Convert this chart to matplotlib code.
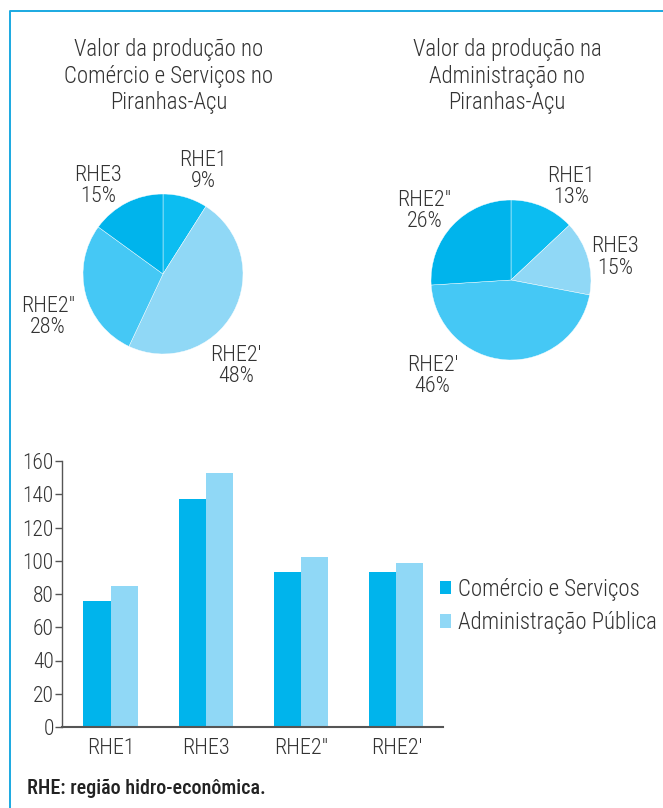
import matplotlib
matplotlib.use('Agg')
import matplotlib.pyplot as plt
from matplotlib.lines import Line2D

plt.rcParams['font.family'] = ['Roboto Condensed', 'Roboto', 'DejaVu Sans']
plt.rcParams['font.weight'] = 'light'
plt.rcParams['text.color'] = '#333333'

# Data
pie1_labels = ['RHE1', "RHE2'", 'RHE2"', 'RHE3']
pie1_values = [9, 48, 28, 15]
pie2_labels = ['RHE1', 'RHE3', "RHE2'", 'RHE2"']
pie2_values = [13, 15, 46, 26]

bar_categories = ['RHE1', 'RHE3', 'RHE2"', "RHE2'"]
comercio = [76, 137, 93, 93]
administracao = [85, 152.5, 102.5, 98.5]

# Colors
c_dark = '#00B4EC'
c_rhe1 = '#0CBDF1'
c_mid = '#45C8F5'
c_light = '#90D8F6'
c_text = '#333333'

W, H = 663, 808
fig = plt.figure(figsize=(W / 100, H / 100), dpi=100)


def px_axes(x0, y0, x1, y1):
    # axes from pixel box (top-left origin)
    return fig.add_axes([x0 / W, 1 - y1 / H, (x1 - x0) / W, (y1 - y0) / H])


# Frame line
fig.add_artist(Line2D([9.5 / W, 9.5 / W, 1.0], [0.0, 1 - 10.5 / H, 1 - 10.5 / H],
                      transform=fig.transFigure, color='#1AA9E1', lw=1.4))


def draw_pie(box, values, labels, colors, label_pos, title, title_x):
    ax = px_axes(*box)
    ax.pie(values, colors=colors, startangle=90, counterclock=False,
           radius=1, wedgeprops=dict(edgecolor='white', linewidth=0.3))
    ax.set_xlim(-1, 1)
    ax.set_ylim(-1, 1)
    ax.set_aspect('auto')
    for lab, val, (x, y) in zip(labels, values, label_pos):
        ax.text(x, y, f'{lab}\n{val}%', ha='center', va='center', fontsize=16,
                linespacing=1.03, color=c_text, clip_on=False)
    fig.text(title_x / W, 1 - 76 / H, title, ha='center', va='center',
             fontsize=16.5, linespacing=1.17, color=c_text)
    return ax


draw_pie((83, 194, 243, 354), pie1_values, pie1_labels,
         [c_rhe1, c_light, c_mid, c_dark],
         [(0.5, 1.29), (0.91, -1.15), (-1.44, -0.54), (-0.81, 1.1)],
         'Valor da produção no\nComércio e Serviços no\nPiranhas-Açu', 169)

draw_pie((431, 200, 591, 360), pie2_values, pie2_labels,
         [c_rhe1, c_light, c_mid, c_dark],
         [(0.75, 1.16), (1.3, 0.28), (-0.98, -1.2), (-1.08, 0.86)],
         'Valor da produção na\nAdministração no\nPiranhas-Açu', 507)

# Bar chart
ax = px_axes(62, 461, 443, 727)
x = [i + 0.51 for i in range(len(bar_categories))]
bw = 0.285
ax.bar([v - bw / 2 for v in x], comercio, bw, color=c_dark, label='Comércio e Serviços')
ax.bar([v + bw / 2 for v in x], administracao, bw, color=c_light, label='Administração Pública')
ax.set_xlim(0, 4)
ax.set_ylim(0, 160)
ax.set_yticks(range(0, 161, 20))
ax.set_xticks(x)
ax.set_xticklabels(bar_categories)
ax.tick_params(axis='x', length=0, pad=8, labelsize=16, labelcolor=c_text)
ax.tick_params(axis='y', length=5, width=1, color='#555555', pad=1, labelsize=15.5, labelcolor=c_text)
for s in ['top', 'right']:
    ax.spines[s].set_visible(False)
ax.spines['left'].set_color('#555555')
ax.spines['bottom'].set_color('#555555')
ax.spines['left'].set_linewidth(1)
ax.spines['bottom'].set_linewidth(1.5)

fig.legend(loc='center left', bbox_to_anchor=(440 / W, 1 - 606 / H), frameon=False,
           fontsize=16.5, handlelength=0.5, handleheight=0.5, handletextpad=0.3,
           labelspacing=0.45, borderpad=0, borderaxespad=0, labelcolor=c_text)

fig.text(27 / W, 1 - 788 / H, 'RHE: região hidro-econômica.', ha='left', va='center',
         fontsize=14.5, fontweight='medium', color='#222222')

fig.savefig('out.png', dpi=100)
